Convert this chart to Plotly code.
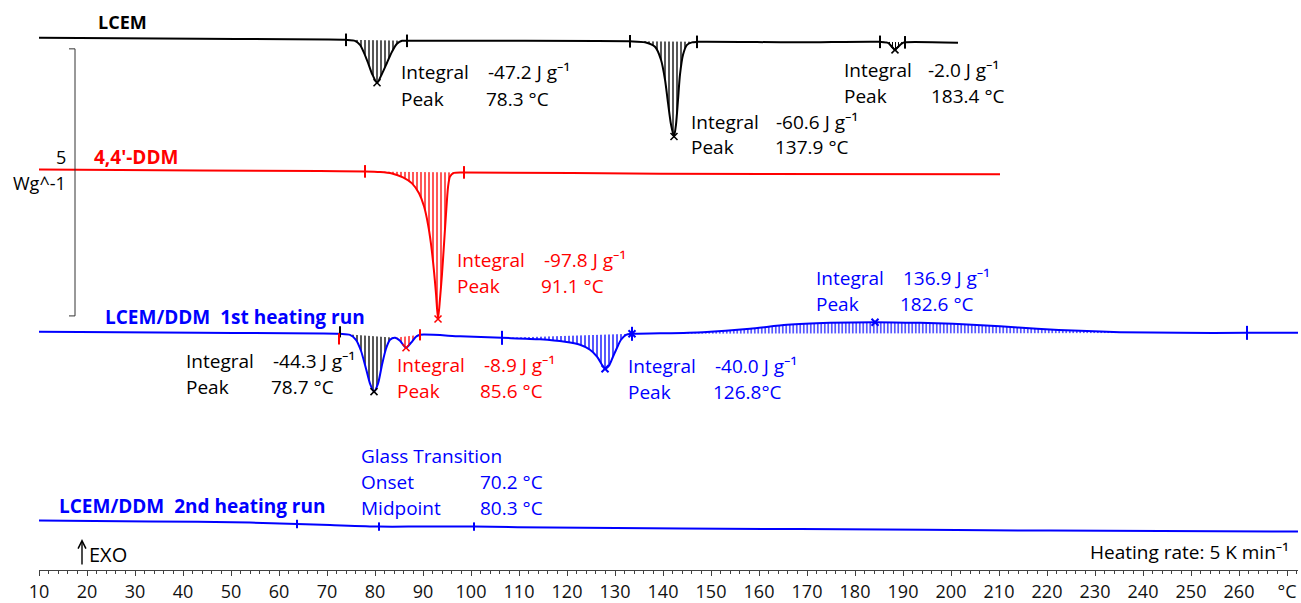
import numpy as np
import plotly.graph_objects as go

# ---------------- data ----------------
# temperatures in deg C, heat flow in W/g relative to each curve's offset
lcem_T = [10.0, 43.5, 73.96, 75.83, 76.88, 77.71, 78.54, 79.38, 80.42, 81.46, 82.5, 83.54, 84.58,
          85.63, 86.67, 106.04, 133.13, 136.25, 138.33, 139.58, 140.42, 141.04, 141.67, 142.29,
          142.71, 143.13, 143.54, 144.17, 145.0, 146.04, 147.08, 168.54, 185.21, 186.88, 187.71,
          188.33, 188.96, 189.79, 190.42, 201.46]
lcem_hf = [0.0, -0.019, -0.037, -0.056, -0.131, -0.280, -0.466, -0.672, -0.840, -0.672, -0.466,
           -0.261, -0.112, -0.056, -0.056, -0.056, -0.065, -0.084, -0.168, -0.410, -0.784, -1.213,
           -1.623, -1.847, -1.623, -1.157, -0.690, -0.317, -0.131, -0.084, -0.075, -0.084, -0.075,
           -0.093, -0.170, -0.225, -0.170, -0.103, -0.084, -0.093]
lcem_offset = 9.963
lcem_limits_T = [73.96, 86.67, 133.13, 147.08, 185.21, 190.42]
lcem_limits_hf = [-0.037, -0.056, -0.065, -0.075, -0.075, -0.084]
lcem_peaks_T = [80.42, 142.29, 188.33]
lcem_peaks_hf = [-0.840, -1.847, -0.225]

ddm_T = [10.0, 43.5, 68.54, 77.92, 81.04, 83.54, 85.83, 87.71, 89.17, 90.21, 91.04, 91.67, 92.29,
         92.71, 93.13, 93.54, 93.96, 94.38, 94.79, 95.21, 95.63, 96.46, 98.54, 139.38, 210.21]
ddm_hf = [0.0, -0.019, -0.032, -0.037, -0.047, -0.075, -0.149, -0.261, -0.448, -0.690, -1.026,
          -1.399, -1.903, -2.332, -2.799, -2.425, -1.959, -1.399, -0.840, -0.336, -0.131, -0.065,
          -0.056, -0.080, -0.093]
ddm_offset = 7.5
ddm_limits_T = [77.92, 98.54]
ddm_limits_hf = [-0.037, -0.056]
ddm_peaks_T = [93.13]
ddm_peaks_hf = [-2.799]

run1_T = [10.0, 43.5, 72.71, 74.79, 76.04, 77.08, 78.13, 78.96, 79.79, 80.63, 81.46, 82.29, 83.13,
          84.17, 85.21, 86.46, 87.5, 88.54, 89.38, 97.71, 106.46, 114.38, 119.58, 122.71, 124.79,
          126.25, 127.29, 127.92, 128.75, 129.58, 130.42, 131.25, 132.29, 133.54, 139.38, 148.33,
          158.13, 165.83, 174.79, 184.17, 193.54, 200.42, 210.21, 217.92, 226.88, 235.21, 247.71,
          261.67, 272.29]
run1_hf = [0.0, -0.019, -0.037, -0.056, -0.149, -0.354, -0.690, -0.970, -1.119, -0.970, -0.616,
           -0.317, -0.149, -0.112, -0.168, -0.299, -0.205, -0.093, -0.056, -0.084, -0.112, -0.140,
           -0.187, -0.243, -0.336, -0.466, -0.616, -0.690, -0.634, -0.466, -0.299, -0.149, -0.056,
           -0.037, -0.028, -0.006, 0.056, 0.131, 0.168, 0.181, 0.168, 0.149, 0.103, 0.056, 0.019,
           -0.006, -0.019, -0.019, -0.019]
run1_offset = 4.459
run1_black_limits_T = [72.71]
run1_black_limits_hf = [0.0]
run1_red_limits_T = [72.5, 89.38]
run1_red_limits_hf = [-0.131, -0.056]
run1_blue_limits_T = [106.46, 133.54, 261.67]
run1_blue_limits_hf = [-0.112, -0.037, -0.019]
run1_black_peak_T, run1_black_peak_hf = [79.79], [-1.119]
run1_red_peak_T, run1_red_peak_hf = [86.46], [-0.299]
run1_blue_peaks_T = [127.92, 184.17, 133.54]
run1_blue_peaks_hf = [-0.690, 0.181, -0.037]

run2_T = [10.0, 33.13, 53.96, 63.75, 70.63, 80.83, 89.38, 100.63, 116.46, 168.54, 220.63, 272.29]
run2_hf = [0.0, -0.015, -0.037, -0.065, -0.084, -0.112, -0.112, -0.112, -0.131, -0.159, -0.187, -0.205]
run2_offset = 0.925
run2_marks_T = [63.75, 80.83, 100.63]
run2_marks_hf = [-0.065, -0.112, -0.112]

scale_bar_wg = 5.0
scale_bar_bottom = 4.757
tick_vals = list(range(10, 271, 10))
tick_text = [str(v) for v in range(10, 261, 10)] + ["°C"]

# ---------------- figure ----------------
BLACK, RED, BLUE = "#000000", "#ff0000", "#0000ff"
FONT = "Open Sans, Noto Sans, DejaVu Sans"
PX_PER_DEG, X0PX = 4.8, 39
PX_PER_WG, AXISPX = 53.6, 572


def X(px):
    return 10 + (px - X0PX) / PX_PER_DEG


def Y(py):
    return (AXISPX - py) / PX_PER_WG


fig = go.Figure()


def curve_y(hf, off):
    return [off + v for v in hf]


def hatch(T, Yv, t0, t1, color, size=4):
    T = np.array(T)
    Yv = np.array(Yv)
    m = (T >= t0 - 1e-9) & (T <= t1 + 1e-9)
    xs, ys = T[m], Yv[m]
    fig.add_trace(go.Scatter(x=[xs[0], xs[-1]], y=[ys[0], ys[-1]], mode="lines",
                             line=dict(width=0), showlegend=False, hoverinfo="skip"))
    fig.add_trace(go.Scatter(x=xs, y=ys, mode="lines", line=dict(width=0, shape="spline", smoothing=0.7),
                             fill="tonexty", fillcolor="rgba(0,0,0,0)",
                             fillpattern=dict(shape="|", size=size, solidity=0.33, fgcolor=color, fgopacity=1),
                             showlegend=False, hoverinfo="skip"))


lcem_y = curve_y(lcem_hf, lcem_offset)
ddm_y = curve_y(ddm_hf, ddm_offset)
run1_y = curve_y(run1_hf, run1_offset)
run2_y = curve_y(run2_hf, run2_offset)

# hatched integration areas
hatch(lcem_T, lcem_y, 73.96, 86.67, BLACK)
hatch(lcem_T, lcem_y, 133.13, 147.08, BLACK)
hatch(lcem_T, lcem_y, 185.21, 190.42, BLACK, 3)
hatch(ddm_T, ddm_y, 77.92, 98.54, RED)
hatch(run1_T, run1_y, 72.71, 84.17, BLACK)
hatch(run1_T, run1_y, 84.17, 89.38, RED)
hatch(run1_T, run1_y, 106.46, 133.54, BLUE)
hatch(run1_T, run1_y, 133.54, 261.67, BLUE, 3.5)

# curves
for T, Yv, col in [(lcem_T, lcem_y, BLACK), (ddm_T, ddm_y, RED), (run1_T, run1_y, BLUE), (run2_T, run2_y, BLUE)]:
    fig.add_trace(go.Scatter(x=T, y=Yv, mode="lines", line=dict(color=col, width=2, shape="spline", smoothing=0.7),
                             showlegend=False, hoverinfo="skip"))


def marks(T, hf, off, col, symbol, size, width=2):
    fig.add_trace(go.Scatter(x=T, y=curve_y(hf, off), mode="markers",
                             marker=dict(symbol=symbol, size=size, line=dict(color=col, width=width), color=col),
                             showlegend=False, hoverinfo="skip"))


marks(lcem_limits_T, lcem_limits_hf, lcem_offset, BLACK, "line-ns", 9)
marks(lcem_peaks_T, lcem_peaks_hf, lcem_offset, BLACK, "x-thin", 7, 1.5)
marks(ddm_limits_T, ddm_limits_hf, ddm_offset, RED, "line-ns", 9)
marks(ddm_peaks_T, ddm_peaks_hf, ddm_offset, RED, "x-thin", 7, 1.5)
marks(run1_black_limits_T, run1_black_limits_hf, run1_offset, BLACK, "line-ns", 8)
marks(run1_red_limits_T, run1_red_limits_hf, run1_offset, RED, "line-ns", 8)
marks(run1_blue_limits_T, run1_blue_limits_hf, run1_offset, BLUE, "line-ns", 10)
marks(run1_black_peak_T, run1_black_peak_hf, run1_offset, BLACK, "x-thin", 7, 1.5)
marks(run1_red_peak_T, run1_red_peak_hf, run1_offset, RED, "x-thin", 7, 1.5)
marks(run1_blue_peaks_T, run1_blue_peaks_hf, run1_offset, BLUE, "x-thin", 7, 2)
marks(run2_marks_T, run2_marks_hf, run2_offset, BLUE, "line-ns", 6)

# scale bar 5 W/g
sb_x, sb_tick = X(75), X(69)
for x0, y0, x1, y1 in [(sb_x, scale_bar_bottom, sb_x, scale_bar_bottom + scale_bar_wg),
                       (sb_tick, scale_bar_bottom, sb_x, scale_bar_bottom),
                       (sb_tick, scale_bar_bottom + scale_bar_wg, sb_x, scale_bar_bottom + scale_bar_wg)]:
    fig.add_shape(type="line", x0=x0, y0=y0, x1=x1, y1=y1, line=dict(color="#333333", width=1))

# EXO arrow (drawn as an arrow, not text)
fig.add_annotation(x=X(82), y=Y(541), ax=0, ay=27, text="", showarrow=True,
                   arrowhead=5, arrowsize=1.1, arrowwidth=1.4, arrowcolor=BLACK)


def txt(px_, py_, s, color, size=19, bold=False, anchor="left", family=FONT):
    if bold:
        s = "<b>" + s + "</b>"
    fig.add_annotation(x=X(px_), y=Y(py_), text=s, showarrow=False, xanchor=anchor, yanchor="middle",
                       font=dict(family=family, size=size, color=color), borderpad=0)


def block(px_, py_, val1, val2, color, dx1, dx2, dy=26):
    txt(px_, py_, "Integral", color)
    txt(px_ + dx1, py_, val1, color)
    txt(px_, py_ + dy, "Peak", color)
    txt(px_ + dx2, py_ + dy, val2, color)


J = " J g⁻¹"
txt(97, 22, "LCEM", BLACK, 18, True)
block(400, 72, "-47.2" + J, "78.3 °C", BLACK, 87, 85, 27)
block(690, 122, "-60.6" + J, "137.9 °C", BLACK, 85, 84)
block(843, 70, "-2.0" + J, "183.4 °C", BLACK, 84, 87)
txt(67, 158, "5", BLACK, 18, anchor="right")
txt(67, 184, "Wg^-1", BLACK, 18, anchor="right")
txt(93, 158, "4,4'-DDM", RED, 19, True)
block(456, 261, "-97.8" + J, "91.1 °C", RED, 87, 84)
txt(104, 318, "LCEM/DDM  1st heating run", BLUE, 19, True)
block(815, 279, "136.9" + J, "182.6 °C", BLUE, 87, 84)
block(185, 362, "-44.3" + J, "78.7 °C", BLACK, 87, 85)
block(396, 366, "-8.9" + J, "85.6 °C", RED, 87, 83)
block(627, 367, "-40.0" + J, "126.8°C", BLUE, 87, 85)
txt(360, 458, "Glass Transition", BLUE)
txt(360, 484, "Onset", BLUE)
txt(479, 484, "70.2 °C", BLUE)
txt(360, 510, "Midpoint", BLUE)
txt(479, 510, "80.3 °C", BLUE)
txt(58, 508, "LCEM/DDM  2nd heating run", BLUE, 19, True)
txt(88, 556, "EXO", BLACK, 20)
txt(1290, 554, "Heating rate: 5 K min⁻¹", BLACK, 19, anchor="right")

fig.update_layout(
    width=1301, height=603, margin=dict(l=X0PX, r=3, t=0, b=603 - AXISPX),
    plot_bgcolor="white", paper_bgcolor="white", showlegend=False,
    font=dict(family=FONT, color=BLACK),
    xaxis=dict(range=[10, X(1298)], showgrid=False, zeroline=False, showline=True, linecolor="#404040",
               linewidth=1, ticks="outside", ticklen=5, tickwidth=1, tickcolor="#404040",
               tickmode="array", tickvals=tick_vals, ticktext=tick_text,
               tickfont=dict(family=FONT, size=18, color="#111111"),
               minor=dict(tickmode="linear", tick0=10, dtick=2, ticks="outside", ticklen=3,
                          tickcolor="#404040", tickwidth=1)),
    yaxis=dict(range=[0, AXISPX / PX_PER_WG], visible=False, fixedrange=True),
)

fig.write_html("out.html")
